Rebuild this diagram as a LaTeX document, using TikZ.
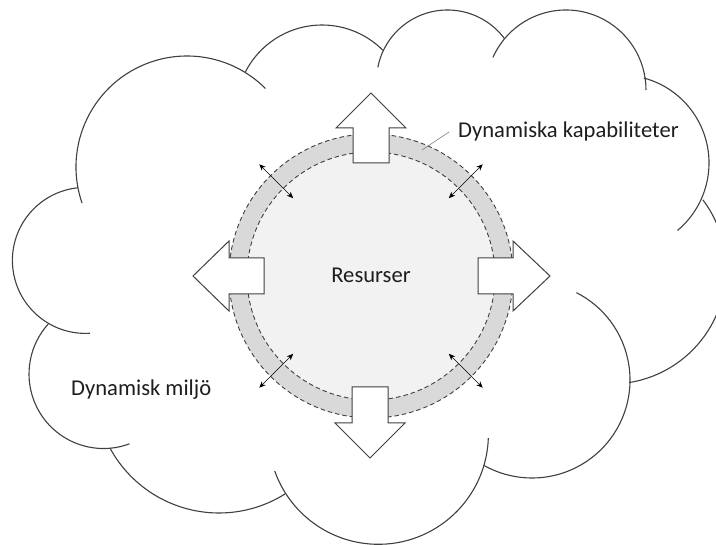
\documentclass[tikz,border=0pt]{standalone}
\usepackage{fontspec}
\setmainfont{Carlito}
\usetikzlibrary{arrows.meta,calc}
\definecolor{lineg}{HTML}{404040}
\definecolor{ringg}{HTML}{D9D9D9}
\definecolor{coreg}{HTML}{F2F2F2}
\definecolor{txtc}{HTML}{1E1E1E}
\newcommand\cloudarc[5]{\draw[cloudline] ($(#1,#2)+(#4:#3)$) arc[start angle=#4,end angle=#5,radius=#3];}
\begin{document}
\begin{tikzpicture}[x=1pt,y=1pt,yscale=-1,
  cloudline/.style={draw=lineg,line width=1.1pt},
  dashline/.style={draw=lineg,line width=0.9pt,dash pattern=on 4.5pt off 3pt},
  blockarrow/.style={draw=lineg,fill=white,line width=1pt,line join=miter},
  dblarrow/.style={draw=black,line width=0.7pt,{Stealth[length=6.5pt,width=5.5pt]}-{Stealth[length=6.5pt,width=5.5pt]}},
  lbl/.style={font=\fontsize{22.6}{27}\selectfont,inner sep=0pt,text=txtc},
  leader/.style={draw=gray,line width=0.6pt}]
\path[use as bounding box] (0,0) rectangle (716,545);
\fill[white] (0,0) rectangle (716,545);
\clip (0,0) rectangle (716,545);
% cloud lobes
\cloudarc{187}{167}{111}{161}{315}
\cloudarc{322}{111}{86}{207}{315}
\cloudarc{447.5}{81}{71}{191}{323}
\cloudarc{566}{90}{80}{204}{360}
\cloudarc{621}{163}{88}{285}{410}
\cloudarc{611}{269}{115}{323}{441}
\cloudarc{532}{380}{98}{297}{479.5}
\cloudarc{378.4}{434.3}{110}{2}{160.5}
\cloudarc{219}{389}{124}{57.8}{151.6}
\cloudarc{103.5}{374}{74.5}{69.6}{222}
\cloudarc{85.4}{260.4}{73}{86.4}{264.2}
% ring
\coordinate (c) at (371,276);
\fill[ringg] (c) circle[radius=142];
\fill[coreg] (c) circle[radius=124];
\draw[dashline] (c) circle[radius=142];
\draw[dashline] (c) circle[radius=124];
% block arrows
\draw[blockarrow] (353,163) -- (353,128) -- (336,128) -- (371,93) -- (406,128) -- (389,128) -- (389,163) -- cycle;
\draw[blockarrow] (352,387) -- (352,423) -- (335,423) -- (370,458) -- (405,423) -- (388,423) -- (388,387) -- cycle;
\draw[blockarrow] (264,258) -- (229,258) -- (229,241) -- (193,276) -- (229,311) -- (229,294) -- (264,294) -- cycle;
\draw[blockarrow] (478,258) -- (513,258) -- (513,241) -- (550,276) -- (513,311) -- (513,294) -- (478,294) -- cycle;
% small double arrows
\foreach \a/\n in {225/tl,315/tr,45/br,135/bl}{
  \coordinate (\n i) at ($(c)+(\a:110)$);
  \coordinate (\n o) at ($(c)+(\a:158)$);
  \draw[dblarrow] (\n i) -- (\n o);
}
% texts
\node[lbl,anchor=base] (res) at (371,283) {Resurser};
\node[lbl,anchor=base west] (dk) at (458,138) {Dynamiska kapabiliteter};
\node[lbl,anchor=base west] (dm) at (71,396) {Dynamisk miljö};
\coordinate (lk) at (422,150);
\draw[leader] (lk) -- ([xshift=-9pt]dk.west);
\end{tikzpicture}
\end{document}
